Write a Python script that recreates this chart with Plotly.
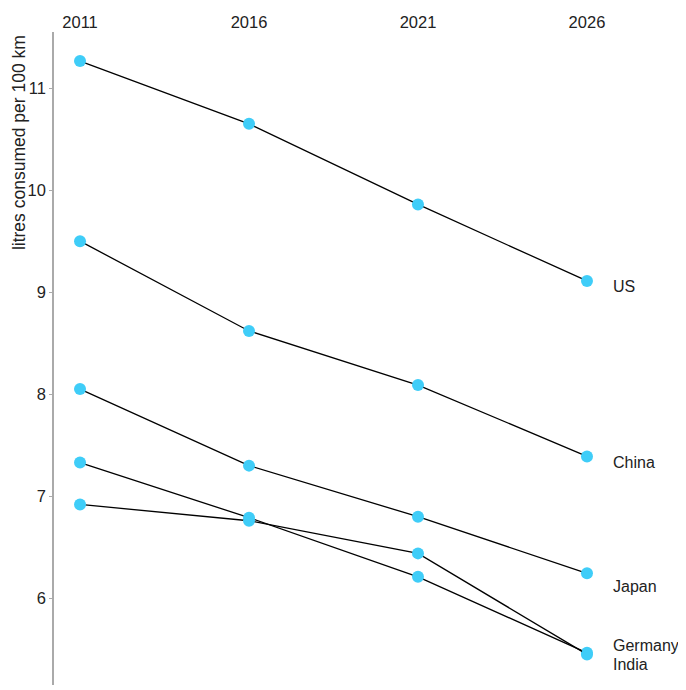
import plotly.graph_objects as go

years = [2011, 2016, 2021, 2026]
countries = ["US", "China", "Japan", "Germany", "India"]
us = [11.265, 10.65, 9.86, 9.11]
china = [9.50, 8.62, 8.09, 7.39]
japan = [8.05, 7.30, 6.80, 6.245]
germany = [7.33, 6.79, 6.21, 5.465]
india = [6.92, 6.76, 6.44, 5.45]
series = [us, china, japan, germany, india]
label_y = [9.06, 7.33, 6.12, 5.54, 5.35]
y_ticks = [6, 7, 8, 9, 10, 11]

fig = go.Figure()
for name, vals in zip(countries, series):
    fig.add_trace(go.Scatter(
        x=years, y=vals, mode="lines+markers", name=name,
        line=dict(color="black", width=1.3),
        marker=dict(color="#3fcdf8", size=12),
        showlegend=False, cliponaxis=False,
    ))

for name, vals, ly in zip(countries, series, label_y):
    fig.add_annotation(x=years[-1], y=ly, text=name, xanchor="left", yanchor="middle",
                       xshift=24, showarrow=False,
                       font=dict(size=16, color="#222"))

fig.add_annotation(xref="paper", yref="y", x=-0.0555, y=10.47,
                   text="litres consumed per 100 km", textangle=-90,
                   xanchor="center", yanchor="middle", showarrow=False,
                   font=dict(size=17.5, color="#222"))

# page body has an 8px default margin, so the figure is sized/offset to compensate
fig.update_layout(
    width=678, height=682,
    margin=dict(l=46, r=0, t=24, b=5),
    paper_bgcolor="white", plot_bgcolor="white",
    font=dict(family="Liberation Sans, Arial, sans-serif", size=16, color="#222"),
    xaxis=dict(range=[2010.23, 2028.93], side="top", tickvals=years,
               showgrid=False, zeroline=False, showline=False, ticks="",
               automargin=False, tickfont=dict(size=16.5, color="#222")),
    yaxis=dict(range=[5.15, 11.55], tickvals=y_ticks, showgrid=False, zeroline=False,
               showline=True, linecolor="#aaaaaa", linewidth=1.5,
               ticks="outside", ticklen=3, tickcolor="#aaaaaa",
               automargin=False, tickfont=dict(size=16.5, color="#222")),
)

fig.write_html("out.html")
